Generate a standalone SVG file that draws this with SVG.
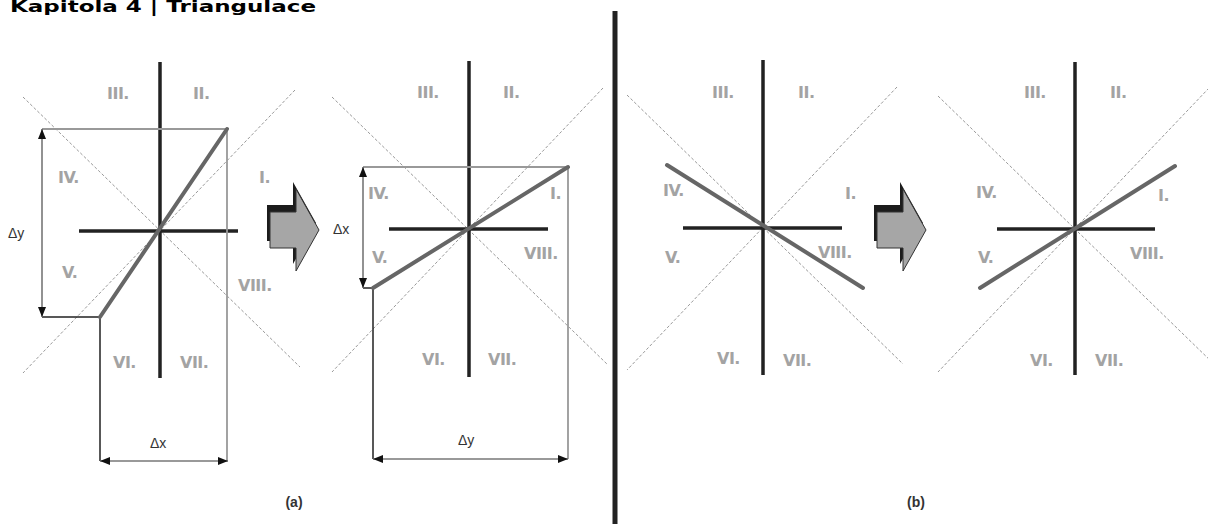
<svg xmlns="http://www.w3.org/2000/svg" width="1208" height="524" viewBox="0 0 1208 524">
<defs>
<style>
.axis{stroke:#222;stroke-width:3.5;fill:none}
.diag{stroke:#999;stroke-width:1;stroke-dasharray:3 2;fill:none}
.slope{stroke:#666;stroke-width:4;fill:none;stroke-linecap:round}
.box{stroke:#999;stroke-width:1.8;fill:none}
.step{stroke:#222;stroke-width:1.5;fill:none}
.dim{stroke:#777;stroke-width:1.6;fill:none;marker-start:url(#ah);marker-end:url(#ah)}
.rn{font-family:"DejaVu Sans",sans-serif;font-weight:bold;font-size:16px;fill:#a3a3a3;letter-spacing:-0.5px}
.dl{font-family:"Liberation Sans",sans-serif;font-size:14px;fill:#333}
.cap{font-family:"Liberation Sans",sans-serif;font-weight:bold;font-size:14px;fill:#333;text-anchor:middle}
.arrF{fill:#a6a6a6;stroke:#333;stroke-width:1}
.arrB{fill:#1c1c1c}
</style>
<marker id="ah" viewBox="0 0 10 8" refX="10" refY="4" markerWidth="10" markerHeight="8" markerUnits="userSpaceOnUse" orient="auto-start-reverse">
<path d="M0,0 L10,4 L0,8 z" fill="#111"/>
</marker>
<polygon id="blk" points="270,212 296,212 296,189 319,230 296,271 296,248 270,248"/>
</defs>
<rect width="1208" height="524" fill="#fff"/>

<g id="title">
<text x="10" y="12" font-family="'DejaVu Sans',sans-serif" font-weight="bold" font-size="15" textLength="306" lengthAdjust="spacingAndGlyphs" fill="#000">Kapitola 4 | Triangulace</text>
</g>

<g id="panel-a1">
<line class="diag" x1="23" y1="97" x2="300" y2="367"/>
<line class="diag" x1="295" y1="90" x2="23" y2="373"/>
<line class="axis" x1="160" y1="62" x2="160" y2="378"/>
<line class="axis" x1="79" y1="231" x2="238" y2="231"/>
<polyline class="box" points="42,129 227,129 227,461"/>
<polyline class="step" points="42,317 100,317 100,461"/>
<line class="slope" x1="227" y1="129" x2="100" y2="317"/>
<text class="rn" x="107" y="99">III.</text>
<text class="rn" x="193" y="99">II.</text>
<text class="rn" x="58" y="183">IV.</text>
<text class="rn" x="259" y="183">I.</text>
<text class="rn" x="62" y="278">V.</text>
<text class="rn" x="238" y="291">VIII.</text>
<text class="rn" x="113" y="368">VI.</text>
<text class="rn" x="180" y="368">VII.</text>
</g>

<g id="panel-a2">
<line class="diag" x1="332" y1="97" x2="608" y2="365"/>
<line class="diag" x1="603" y1="88" x2="332" y2="372"/>
<line class="axis" x1="469" y1="61" x2="469" y2="377"/>
<line class="axis" x1="389" y1="229" x2="548" y2="229"/>
<polyline class="box" points="363,167 568,167 568,459"/>
<polyline class="step" points="363,288 373,288 373,459"/>
<line class="slope" x1="568" y1="167" x2="373" y2="288"/>
<text class="rn" x="417" y="98">III.</text>
<text class="rn" x="503" y="98">II.</text>
<text class="rn" x="368" y="199">IV.</text>
<text class="rn" x="550" y="199">I.</text>
<text class="rn" x="372" y="263">V.</text>
<text class="rn" x="524" y="259">VIII.</text>
<text class="rn" x="422" y="365">VI.</text>
<text class="rn" x="488" y="365">VII.</text>
</g>

<g id="panel-b1">
<line class="diag" x1="627" y1="95" x2="903" y2="364"/>
<line class="diag" x1="897" y1="87" x2="627" y2="370"/>
<line class="axis" x1="763" y1="60" x2="763" y2="375"/>
<line class="axis" x1="683" y1="228" x2="842" y2="228"/>
<line class="slope" x1="667" y1="165" x2="863" y2="288"/>
<text class="rn" x="712" y="98">III.</text>
<text class="rn" x="798" y="98">II.</text>
<text class="rn" x="663" y="196">IV.</text>
<text class="rn" x="845" y="199">I.</text>
<text class="rn" x="665" y="263">V.</text>
<text class="rn" x="818" y="258">VIII.</text>
<text class="rn" x="717" y="364">VI.</text>
<text class="rn" x="783" y="366">VII.</text>
</g>

<g id="panel-b2">
<line class="diag" x1="938" y1="96" x2="1215" y2="365"/>
<line class="diag" x1="1209" y1="88" x2="938" y2="372"/>
<line class="axis" x1="1075" y1="62" x2="1075" y2="375"/>
<line class="axis" x1="997" y1="229" x2="1155" y2="229"/>
<line class="slope" x1="1175" y1="166" x2="980" y2="288"/>
<text class="rn" x="1024" y="98">III.</text>
<text class="rn" x="1110" y="98">II.</text>
<text class="rn" x="976" y="198">IV.</text>
<text class="rn" x="1158" y="201">I.</text>
<text class="rn" x="978" y="263">V.</text>
<text class="rn" x="1130" y="259">VIII.</text>
<text class="rn" x="1030" y="366">VI.</text>
<text class="rn" x="1095" y="366">VII.</text>
</g>

<g id="arrow-a">
<use href="#blk" class="arrB" transform="translate(-3,-7)"/>
<use href="#blk" class="arrF"/>
</g>
<g id="arrow-b">
<use href="#blk" class="arrB" transform="translate(604,-7)"/>
<use href="#blk" class="arrF" transform="translate(607,0)"/>
</g>

<g id="divider">
<line x1="615" y1="11" x2="615" y2="524" stroke="#222" stroke-width="5"/>
</g>

<g id="connectors">
<line class="dim" x1="42" y1="129" x2="42" y2="317"/>
<line class="dim" x1="100" y1="461" x2="228" y2="461"/>
<line class="dim" x1="363" y1="167" x2="363" y2="288"/>
<line class="dim" x1="373" y1="459" x2="568" y2="459"/>
</g>

<g id="labels">
<text class="dl" x="8" y="238">Δy</text>
<text class="dl" x="150" y="448">Δx</text>
<text class="dl" x="333" y="234">Δx</text>
<text class="dl" x="458" y="445">Δy</text>
<text class="cap" x="294" y="507">(a)</text>
<text class="cap" x="916" y="507">(b)</text>
</g>
</svg>
